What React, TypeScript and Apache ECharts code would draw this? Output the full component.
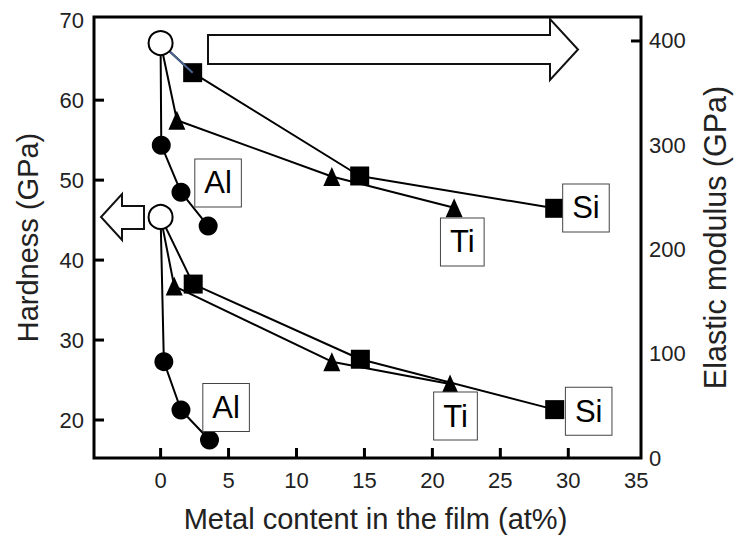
import React, { useEffect, useRef } from 'react';
import * as echarts from 'echarts';

// Tick labels
const xTickValues = [0, 5, 10, 15, 20, 25, 30, 35];
const xTickMarks = [0, 5, 10, 15, 20, 25, 30];
const hardnessTickValues = [20, 30, 40, 50, 60, 70];
const hardnessTickMarks = [20, 30, 40, 50, 60];
const modulusTickValues = [0, 100, 200, 300, 400];
const modulusTickMarks = [400];

// Axis ranges
const xRange = [-4.9, 35.35];
const hardnessRange = [15.25, 70.4];
const modulusRange = [0, 423];

// Pure (0 at%) film
const pureX = [0];
const pureHardness = [45.4];
const pureModulus = [398];

// Hardness (GPa), left axis
const alXH = [0, 0.24, 1.5, 3.6];
const alHardness = [45.4, 27.3, 21.25, 17.5];
const tiXH = [0, 1.0, 12.6, 21.3];
const tiHardness = [45.4, 36.75, 27.3, 24.5];
const siXH = [0, 2.4, 14.7, 29.0];
const siHardness = [45.4, 37.0, 27.6, 21.3];

// Elastic modulus (GPa), right axis
const alXE = [0, 0.05, 1.5, 3.5];
const alModulus = [398, 300, 255, 222.5];
const tiXE = [0, 1.2, 12.6, 21.6];
const tiModulus = [398, 324, 270, 240];
const siXE = [0, 2.36, 14.65, 29.0];
const siModulus = [398, 369.6, 270.5, 239.5];

// Element name boxes (anchor in data units)
const tagNames = ['Al', 'Ti', 'Si'];
const tagXModulus = [4.23, 22.2, 31.3];
const tagYModulus = [263.8, 207.2, 239.8];
const tagXHardness = [4.82, 21.7, 31.5];
const tagYHardness = [21.56, 20.5, 21.1];

const FONT = 'Liberation Sans, Arial, sans-serif';

function pairs(xs: number[], ys: number[]) {
  return xs.map((x, i) => {
    const item: any = { value: [x, ys[i]] };
    if (i === 0) item.symbol = 'none';
    return item;
  });
}

function lineSeries(name: string, xs: number[], ys: number[], yAxisIndex: number, symbol: string, symbolSize: any) {
  return {
    name,
    type: 'line',
    yAxisIndex,
    data: pairs(xs, ys),
    symbol,
    symbolSize,
    showAllSymbol: true,
    lineStyle: { color: '#000', width: 2 },
    itemStyle: { color: '#000', borderWidth: 0 },
    z: 2,
  };
}

function tagSeries(xs: number[], ys: number[], yAxisIndex: number) {
  return {
    type: 'scatter',
    yAxisIndex,
    symbolSize: 1,
    itemStyle: { color: '#fff', opacity: 1 },
    z: 5,
    data: xs.map((x, i) => ({ value: [x, ys[i]], name: tagNames[i] })),
    label: {
      show: true,
      position: 'inside',
      formatter: (p: any) => p.name,
      fontFamily: FONT,
      fontSize: 31,
      lineHeight: 35,
      color: '#000',
      textBorderWidth: 0,
      backgroundColor: '#fff',
      borderColor: '#444',
      borderWidth: 1,
      padding: [7, 9, 5, 9],
    },
  };
}

// Inward tick marks drawn through the axes' own scales
function tickSeries(points: number[][], yAxisIndex: number, dx: number, dy: number) {
  return {
    type: 'custom',
    coordinateSystem: 'cartesian2d',
    yAxisIndex,
    clip: false,
    silent: true,
    z: 10,
    encode: { x: 0, y: 1 },
    data: points,
    renderItem: (_params: any, api: any) => {
      const p = api.coord([api.value(0), api.value(1)]);
      return {
        type: 'rect',
        shape: {
          x: dx < 0 ? p[0] + dx : p[0] - (dx === 0 ? 1.5 : 0),
          y: dy < 0 ? p[1] + dy : p[1] - (dy === 0 ? 1.5 : 0),
          width: dx === 0 ? 3 : Math.abs(dx),
          height: dy === 0 ? 3 : Math.abs(dy),
        },
        style: { fill: '#000' },
      };
    },
  };
}

export default function App() {
  const ref = useRef<HTMLDivElement>(null);
  useEffect(() => {
    if (!ref.current) return;
    const chart = echarts.init(ref.current, undefined, { renderer: 'svg' });
    const tickLabelStyle = { fontFamily: FONT, fontSize: 22, color: '#222' };
    const axisLine = { show: false, onZero: false };
    const option: any = {
      animation: false,
      backgroundColor: '#fff',
      grid: {
        left: 94,
        right: 93,
        top: 17,
        bottom: 80,
        show: true,
        borderColor: '#000',
        borderWidth: 3,
        backgroundColor: 'transparent',
      },
      xAxis: {
        type: 'value',
        position: 'bottom',
        min: xRange[0],
        max: xRange[1],
        name: 'Metal content in the film (at%)',
        nameLocation: 'middle',
        nameGap: 46,
        nameTextStyle: { fontFamily: FONT, fontSize: 29, color: '#222', padding: [0, 0, 0, 16] },
        axisLine,
        splitLine: { show: false },
        axisTick: { show: false },
        axisLabel: { ...tickLabelStyle, margin: 11, customValues: xTickValues },
      },
      yAxis: [
        {
          type: 'value',
          position: 'left',
          min: hardnessRange[0],
          max: hardnessRange[1],
          name: 'Hardness (GPa)',
          nameLocation: 'middle',
          nameRotate: 90,
          nameGap: 52,
          nameTextStyle: { fontFamily: FONT, fontSize: 29, color: '#222' },
          axisLine,
          splitLine: { show: false },
          axisTick: { show: false },
          axisLabel: { ...tickLabelStyle, margin: 10, customValues: hardnessTickValues },
        },
        {
          type: 'value',
          position: 'right',
          min: modulusRange[0],
          max: modulusRange[1],
          name: 'Elastic modulus (GPa)',
          nameLocation: 'middle',
          nameRotate: 90,
          nameGap: 58,
          nameTextStyle: { fontFamily: FONT, fontSize: 30.5, color: '#222' },
          axisLine,
          splitLine: { show: false },
          axisTick: { show: false },
          axisLabel: { ...tickLabelStyle, margin: 8, customValues: modulusTickValues },
        },
      ],
      graphic: [
        {
          type: 'polygon',
          z: 1,
          shape: {
            points: [[208, 35], [550, 35], [550, 19], [578, 49.5], [550, 80], [550, 64], [208, 64]],
          },
          style: { fill: '#fff', stroke: '#111', lineWidth: 2 },
        },
        {
          type: 'polygon',
          z: 1,
          shape: {
            points: [[144, 206], [122, 206], [122, 194], [101, 217], [122, 240], [122, 229], [144, 229]],
          },
          style: { fill: '#fff', stroke: '#111', lineWidth: 2 },
        },
      ],
      series: [
        tickSeries(xTickMarks.map((v) => [v, hardnessRange[0]]), 0, 0, -10),
        tickSeries(hardnessTickMarks.map((v) => [xRange[0], v]), 0, 10, 0),
        tickSeries(modulusTickMarks.map((v) => [xRange[1], v]), 1, -10, 0),
        lineSeries('Al H', alXH, alHardness, 0, 'circle', 19),
        lineSeries('Ti H', tiXH, tiHardness, 0, 'triangle', [17, 19]),
        lineSeries('Si H', siXH, siHardness, 0, 'rect', 19),
        lineSeries('Al E', alXE, alModulus, 1, 'circle', 19),
        lineSeries('Ti E', tiXE, tiModulus, 1, 'triangle', [17, 19]),
        lineSeries('Si E', siXE, siModulus, 1, 'rect', 19),
        {
          name: 'Si E first segment',
          type: 'line',
          yAxisIndex: 1,
          data: [[siXE[0], siModulus[0]], [siXE[1], siModulus[1]]],
          symbol: 'none',
          lineStyle: { color: '#4a6690', width: 2 },
          z: 3,
        },
        {
          name: 'Pure H',
          type: 'scatter',
          yAxisIndex: 0,
          data: pureX.map((x, i) => [x, pureHardness[i]]),
          symbol: 'circle',
          symbolSize: 24,
          itemStyle: { color: '#fff', borderColor: '#000', borderWidth: 2, opacity: 1 },
          z: 4,
        },
        {
          name: 'Pure E',
          type: 'scatter',
          yAxisIndex: 1,
          data: pureX.map((x, i) => [x, pureModulus[i]]),
          symbol: 'circle',
          symbolSize: 24,
          itemStyle: { color: '#fff', borderColor: '#000', borderWidth: 2, opacity: 1 },
          z: 4,
        },
        tagSeries(tagXModulus, tagYModulus, 1),
        tagSeries(tagXHardness, tagYHardness, 0),
      ],
    };
    chart.setOption(option);
    return () => chart.dispose();
  }, []);
  return (
    <div
      ref={ref}
      style={{ position: 'fixed', left: 0, top: 0, width: 738, height: 538, background: '#fff' }}
    />
  );
}
